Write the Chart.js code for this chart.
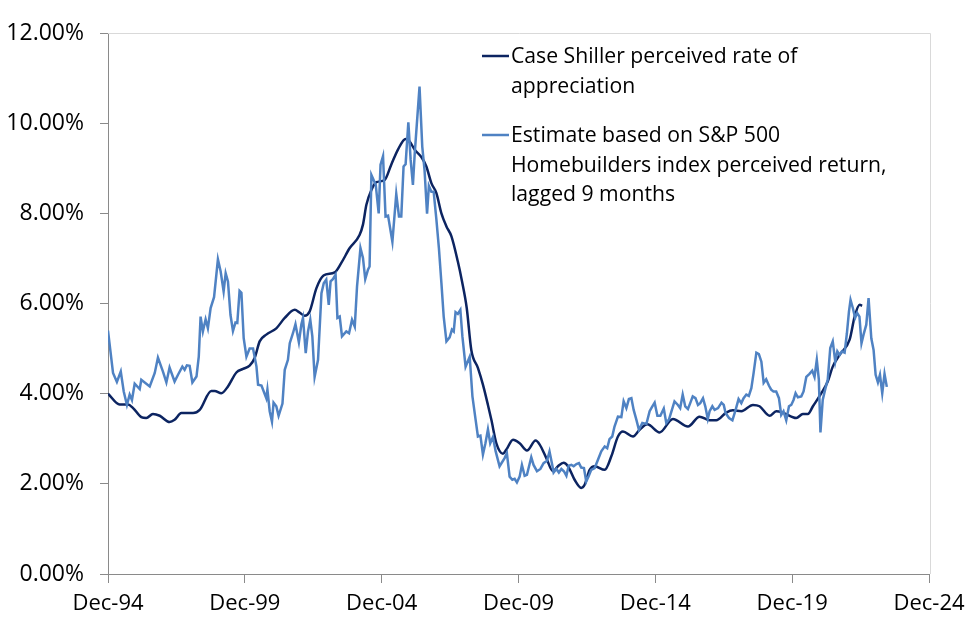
<!DOCTYPE html>
<html>
<head>
<meta charset="utf-8">
<script src="https://cdn.jsdelivr.net/npm/chart.js@4/dist/chart.umd.min.js"></script>
<style>
html,body{margin:0;padding:0;background:#fff;}
#wrap{width:976px;height:635px;position:relative;}
</style>
</head>
<body>
<div id="wrap"><canvas id="c" width="976" height="635"></canvas></div>
<script>
// months since Dec-1994
const xTickLabels = ["Dec-94","Dec-99","Dec-04","Dec-09","Dec-14","Dec-19","Dec-24"];
const seriesNames = [
  ["Case Shiller perceived rate of","appreciation"],
  ["Estimate based on S&P 500","Homebuilders index perceived return,","lagged 9 months"]
];

const caseShillerMonths = [0,5.1,8.8,11,14.6,16.8,19.7,22.7,27,29.2,32.2,37.3,40.2,45.3,46.8,49.7,52.6,56.3,59.2,62.1,64.3,66.5,69.4,73.8,77.5,81.9,84,86.2,88.4,91.4,94.5,99.4,102.3,106,110.3,111.8,113.3,115.5,117.7,121.3,124.2,127.2,130.5,132.3,134.5,137.4,139.6,141.8,144,146.2,148.4,150.6,153.4,155.2,157.3,159.3,162.2,164.4,166.6,168.1,170.3,173.2,174.7,177.6,180.5,183.7,187.5,189.3,192.2,195.1,197.3,199.8,201.7,204.6,207.5,209,211.2,213.4,217.8,220.7,223.6,225.8,230.2,233.1,236.5,241.9,247.7,254.3,259.4,263.8,266.7,271.1,274,277.7,282.8,285.7,290.1,293,295.9,301.8,304.7,306.9,309.1,312.8,315.6,317.8,320.8,325.2,327.4,329.6,330.7];
const caseShillerValues = [4.00,3.76,3.76,3.68,3.48,3.46,3.55,3.51,3.37,3.42,3.57,3.57,3.64,4.06,4.06,4.01,4.16,4.47,4.55,4.62,4.79,5.16,5.31,5.45,5.68,5.86,5.80,5.73,5.82,6.34,6.62,6.69,6.90,7.23,7.52,7.75,8.19,8.52,8.69,8.74,9.08,9.42,9.65,9.59,9.41,9.25,9.04,8.67,8.45,8.00,7.71,7.49,6.93,6.50,5.90,4.97,4.57,4.20,3.75,3.42,2.90,2.67,2.76,2.98,2.90,2.74,2.96,2.87,2.57,2.28,2.39,2.47,2.39,2.09,1.91,1.98,2.31,2.39,2.31,2.61,3.05,3.16,3.05,3.20,3.32,3.14,3.44,3.27,3.49,3.41,3.41,3.58,3.63,3.61,3.75,3.72,3.51,3.61,3.58,3.46,3.55,3.55,3.72,4.01,4.27,4.60,4.86,5.20,5.71,5.97,5.95];

const estimateMonths = [0,2.2,3.9,5.6,6.9,8.3,9.5,10.5,11.7,13.9,14.6,18.3,20.5,21.9,24.1,25.6,27,29.2,30.7,32.6,33.6,34.6,35.8,37,38.8,39.8,40.6,41.6,42.8,43.8,45,46.5,48.2,49.4,50.7,51.6,52.6,53.7,54.8,55.9,56.7,57.7,58.5,59.5,60.7,62.1,63.6,65.1,65.8,67.3,69.4,69.9,70.9,71.9,72.6,73.8,74.8,76.5,77.5,78.9,79.7,81.1,82.2,83.7,84.8,85.5,86.7,87.7,88.7,89.6,90.6,92.1,93.6,94.6,95.7,96.8,97.6,98.6,99.8,100.6,101.6,102.6,104.5,105.7,107,108.2,109.2,110.7,111.8,112.8,114,114.7,115.5,117.4,118.7,119.5,120.6,121.7,122.8,124.7,126.4,127.6,128.6,129.6,130.5,131.7,132.7,133.7,134.5,136.6,137.8,138.8,139.9,140.7,141.8,142.8,144,145.1,146.2,147.2,148.4,149.8,150.8,151.6,152.4,153.4,154.5,155.4,156.8,158.6,159.8,161.2,162.2,163.3,164.4,165.5,166.6,167.6,168.8,170,171.7,173.9,174.9,176.1,177.3,178.3,179.3,180.5,181.5,182.7,183.7,185.6,186.6,188.1,189.6,191,192.5,193.6,194.8,195.4,196.6,197.7,198.8,199.9,201,202,203.2,204.2,205.4,206.5,207.5,208.7,209.7,210.7,211.9,213.4,214.8,216.3,217.8,218.9,219.9,221.1,222.1,223.6,225.1,226.1,227.3,228.4,229.5,230.5,231.7,232.8,234.3,236.1,237.5,238.5,239.7,240.9,242.2,243.7,244.8,246,248.4,249.9,250.9,252,253.1,254.3,255.3,256.4,257.6,258.7,259.7,260.9,261.9,263,263.8,265,266,267.5,269,270,270.8,272.3,273.8,275.2,276.5,277.7,278.7,279.9,281,282.1,283.1,284.3,285.4,286.5,287.5,288.6,289.8,290.8,291.8,293,294.2,295.2,296.2,297.4,298.6,299.6,300.6,301.5,302.5,304,305,306.2,307.6,308.8,309.8,310.8,311.7,312.4,313.4,314.5,315.6,316.7,317.8,318.9,319.8,320.8,321.8,323,324,324.9,325.6,326.6,327.6,328.5,329.5,330.4,331.3,332.5,333.5,334.7,335.7,336.6,337.6,338.5,339.5,340.5,341.5];
const estimateValues = [5.40,4.46,4.26,4.49,4.05,3.75,3.98,3.86,4.22,4.10,4.31,4.16,4.46,4.80,4.49,4.25,4.58,4.27,4.42,4.60,4.53,4.63,4.62,4.25,4.38,4.82,5.71,5.38,5.65,5.45,5.90,6.14,6.98,6.71,6.27,6.67,6.49,5.75,5.39,5.58,5.57,6.28,6.24,5.23,4.82,5.00,5.00,4.60,4.20,4.18,3.90,4.09,3.61,3.38,3.80,3.72,3.51,3.78,4.53,4.75,5.12,5.34,5.54,5.14,5.54,5.68,4.90,5.38,5.64,5.27,4.37,4.75,6.23,6.45,6.53,5.97,6.49,6.54,6.64,5.68,5.71,5.27,5.38,5.34,5.64,5.49,6.38,7.23,7.01,6.54,6.75,6.82,8.85,8.63,8.00,9.08,9.27,7.93,7.95,7.37,8.43,7.93,7.93,9.04,9.09,10.02,9.19,8.63,9.33,10.81,9.48,8.96,7.99,8.61,8.48,8.48,7.86,7.23,6.45,5.71,5.16,5.25,5.42,5.38,5.81,5.77,5.86,5.27,4.60,4.82,3.94,3.42,3.05,3.07,2.65,2.90,3.21,2.90,3.04,2.72,2.39,2.57,2.68,2.16,2.09,2.11,2.03,2.16,2.42,2.18,2.20,2.59,2.42,2.28,2.33,2.46,2.51,2.72,2.42,2.25,2.33,2.25,2.33,2.28,2.18,2.40,2.42,2.39,2.44,2.46,2.36,2.35,2.05,2.16,2.31,2.35,2.53,2.72,2.83,2.79,2.99,3.05,3.27,3.49,3.48,3.83,3.68,3.88,3.90,3.64,3.42,3.20,3.35,3.33,3.61,3.70,3.80,3.51,3.51,3.67,3.35,3.43,3.83,3.75,3.68,3.98,3.72,3.66,3.79,3.94,3.90,3.75,3.79,3.90,3.72,3.44,3.61,3.72,3.64,3.68,3.80,3.75,3.57,3.46,3.41,3.64,3.88,3.79,3.90,3.98,3.95,4.12,4.46,4.91,4.88,4.71,4.24,4.32,4.18,4.09,4.05,4.05,3.90,3.53,3.61,3.41,3.72,3.75,3.86,4.01,3.92,3.94,4.05,4.37,4.44,4.51,4.37,4.75,4.31,3.14,3.86,4.10,4.31,5.01,5.16,4.71,4.94,4.86,4.94,4.91,5.34,5.82,6.08,5.90,5.68,5.79,5.71,5.12,5.31,5.53,6.12,5.23,4.97,4.42,4.25,4.42,4.01,4.44,4.15];

const navy = '#0c2461';
const lightBlue = '#4f82c3';
const axisGray = '#8a8a8a';
const fontFamily = '"Open Sans", "Noto Sans", sans-serif';

function pts(xs, ys){ return xs.map((x,i)=>({x:x, y:ys[i]})); }

Chart.defaults.font.family = fontFamily;
Chart.defaults.color = '#000';

const frame = {
  id:'frame',
  beforeDatasetsDraw(chart){
    const a = chart.chartArea, ctx = chart.ctx;
    ctx.save();
    ctx.strokeStyle = '#d9d9d9';
    ctx.lineWidth = 1;
    ctx.beginPath();
    ctx.moveTo(a.left, a.top + 0.5);
    ctx.lineTo(a.right + 1.5, a.top + 0.5);
    ctx.lineTo(a.right + 1.5, a.bottom);
    ctx.stroke();
    ctx.restore();
  }
};

const customLegend = {
  id:'customLegend',
  afterDraw(chart){
    const ctx = chart.ctx;
    const colors = [navy, lightBlue];
    const starts = [63, 142];
    ctx.save();
    ctx.font = '21.2px ' + fontFamily;
    ctx.fillStyle = '#000';
    ctx.textBaseline = 'alphabetic';
    ctx.textAlign = 'left';
    seriesNames.forEach((lines, i) => {
      const base = starts[i];
      ctx.strokeStyle = colors[i];
      ctx.lineWidth = 2.5;
      ctx.beginPath();
      ctx.moveTo(482, base - 7);
      ctx.lineTo(509, base - 7);
      ctx.stroke();
      lines.forEach((t, j) => ctx.fillText(t, 511, base + j * 29.5));
    });
    ctx.restore();
  }
};

new Chart(document.getElementById('c'), {
  type: 'line',
  data: {
    datasets: [
      { label: seriesNames[1].join(' '), data: pts(estimateMonths, estimateValues), borderColor: lightBlue, borderWidth: 2.5, pointRadius: 0, tension: 0, fill: false },
      { label: seriesNames[0].join(' '), data: pts(caseShillerMonths, caseShillerValues), borderColor: navy, borderWidth: 2.5, pointRadius: 0, cubicInterpolationMode: 'monotone', fill: false }
    ]
  },
  options: {
    responsive: false,
    animation: false,
    layout: { padding: { top: 33, right: 47, left: 0, bottom: 0 } },
    plugins: { legend: { display: false }, tooltip: { enabled: false } },
    scales: {
      x: {
        type: 'linear', min: 0, max: 360,
        afterFit(s){ s.height = 61; },
        afterBuildTicks(s){ s.ticks = xTickLabels.map((l,i)=>({value:i*60})); },
        ticks: { callback: (v) => xTickLabels[Math.round(v/60)], font: { size: 22 }, padding: 8, maxRotation: 0, autoSkip: false },
        grid: { drawOnChartArea: false, drawTicks: true, tickLength: 9, color: axisGray },
        border: { display: true, color: axisGray, width: 1 }
      },
      y: {
        min: 0, max: 12,
        afterFit(s){ s.width = 108; },
        ticks: { stepSize: 2, callback: (v) => v.toFixed(2) + '%', font: { size: 23 }, padding: 16 },
        grid: { drawOnChartArea: false, drawTicks: true, tickLength: 8, color: axisGray },
        border: { display: true, color: axisGray, width: 1 }
      }
    }
  },
  plugins: [frame, customLegend]
});
</script>
</body>
</html>
